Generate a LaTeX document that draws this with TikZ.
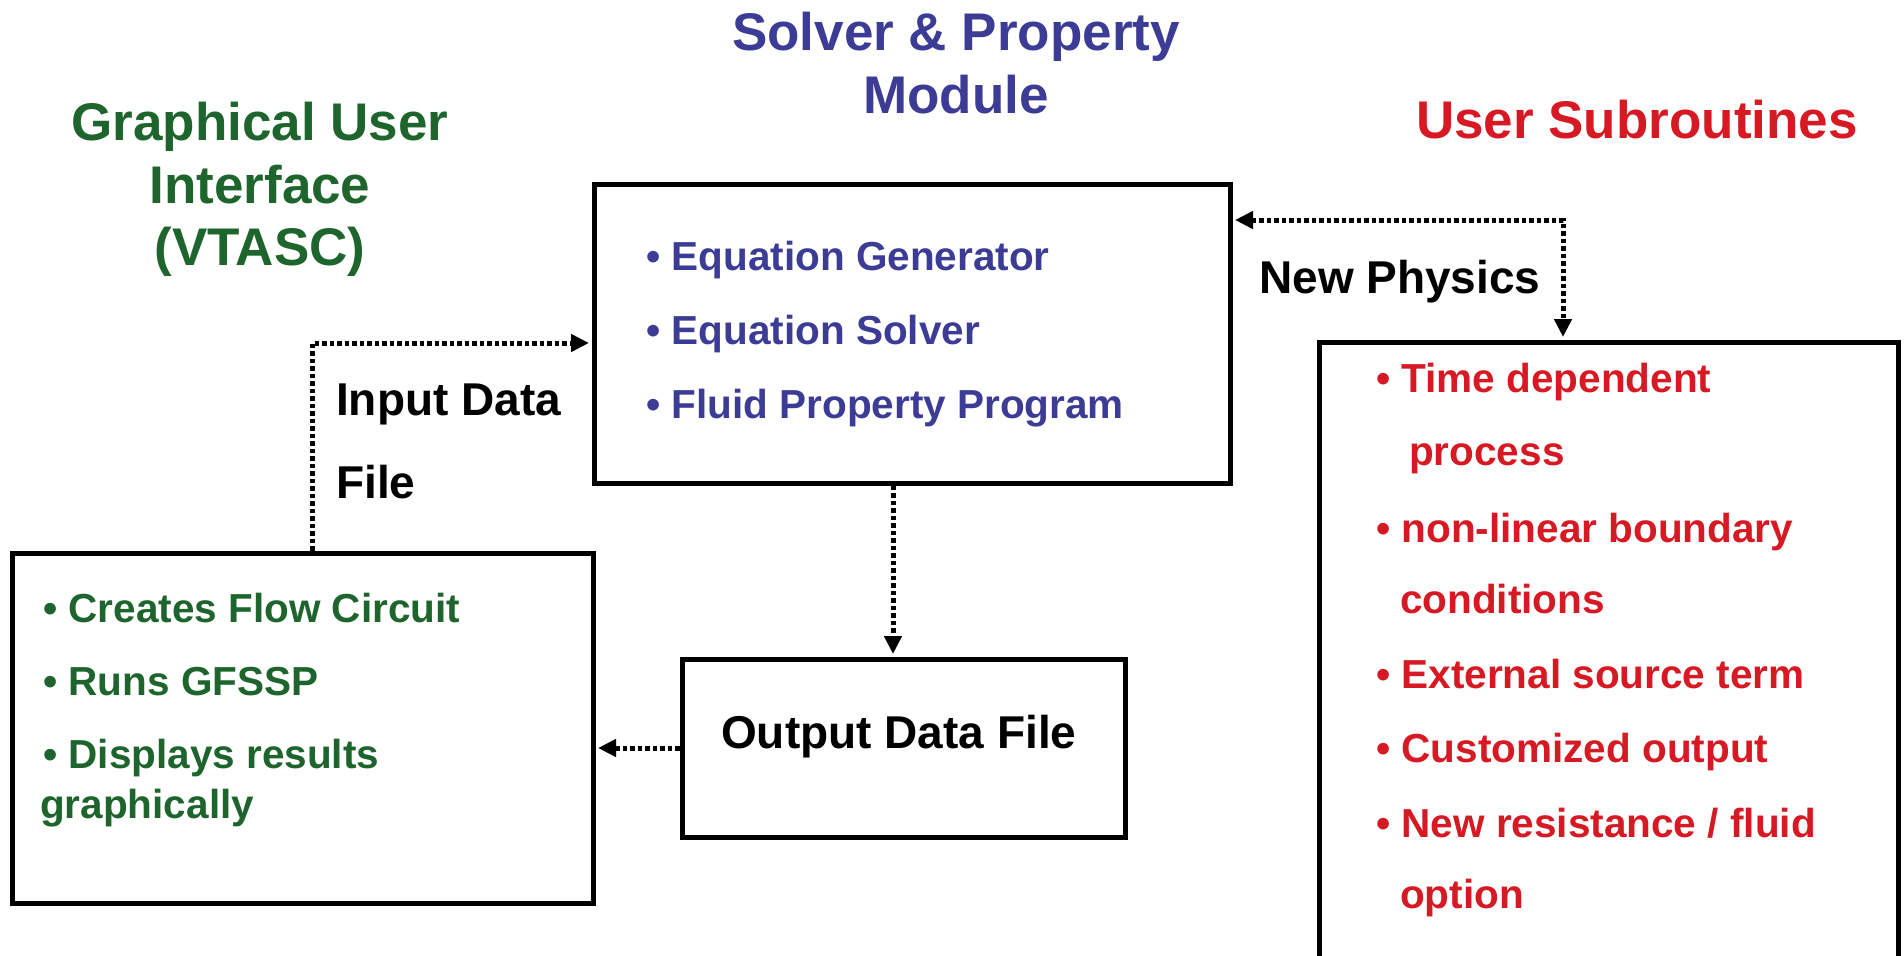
\documentclass[tikz,border=0pt]{standalone}
\usepackage{fontspec}
\setmainfont{Liberation Sans}
\usetikzlibrary{arrows.meta}
\definecolor{gtxt}{RGB}{30,100,45}
\definecolor{btxt}{RGB}{60,60,150}
\definecolor{rtxt}{RGB}{215,25,35}
\begin{document}
\begin{tikzpicture}[x=1pt,y=-1pt,
  >={Triangle[length=18pt,width=17pt]},
  box/.style={draw, line width=5pt, rectangle, inner sep=0pt},
  link/.style={line width=5pt, dash pattern=on 4.5pt off 3pt},
  ttl/.style={font=\fontsize{53}{64}\selectfont\bfseries, anchor=base, inner sep=0pt},
  itm/.style={font=\fontsize{40.5}{48}\selectfont\bfseries, anchor=base west, inner sep=0pt},
  lbl/.style={font=\fontsize{46}{55}\selectfont\bfseries, anchor=base west, inner sep=0pt}]
\useasboundingbox[fill=white] (0,0) rectangle (1904,956);
\clip (0,0) rectangle (1904,956);

% titles
\node[ttl, text=gtxt] (g1) at (260,140) {Graphical User};
\node[ttl, text=gtxt] (g2) at (260,203) {Interface};
\node[ttl, text=gtxt] (g3) at (260,265) {(VTASC)};
\node[ttl, text=btxt] (s1) at (956,50) {Solver \& Property};
\node[ttl, text=btxt] (s2) at (956,113) {Module};
\node[ttl, text=rtxt] (u1) at (1637,138) {User Subroutines};

% boxes
\node[box, minimum width=636pt, minimum height=299pt] (solver) at (912,333.5) {};
\node[box, minimum width=581pt, minimum height=350pt] (gui) at (302.5,728) {};
\node[box, minimum width=443pt, minimum height=178pt] (out) at (903.5,748) {};
\node[box, minimum width=579pt, minimum height=640pt] (sub) at (1608.5,662) {};

% solver items
\node[itm, text=btxt] (e1) at (646,270) {• Equation Generator};
\node[itm, text=btxt] (e2) at (646,344) {• Equation Solver};
\node[itm, text=btxt] (e3) at (646,418) {• Fluid Property Program};

% gui items
\node[itm, text=gtxt] (c1) at (43,622) {• Creates Flow Circuit};
\node[itm, text=gtxt] (c2) at (43,695) {• Runs GFSSP};
\node[itm, text=gtxt] (c3) at (43,768) {• Displays results};
\node[itm, text=gtxt] (c4) at (40,818) {graphically};

% subroutine items
\node[itm, text=rtxt] (r1) at (1376,392) {• Time dependent};
\node[itm, text=rtxt] (r2) at (1409,465) {process};
\node[itm, text=rtxt] (r3) at (1376,542) {• non-linear boundary};
\node[itm, text=rtxt] (r4) at (1400,613) {conditions};
\node[itm, text=rtxt] (r5) at (1376,688) {• External source term};
\node[itm, text=rtxt] (r6) at (1376,762) {• Customized output};
\node[itm, text=rtxt] (r7) at (1376,837) {• New resistance / fluid};
\node[itm, text=rtxt] (r8) at (1400,908) {option};

% labels
\node[lbl] (in1) at (336,415) {Input Data};
\node[lbl] (in2) at (336,498) {File};
\node[lbl] (np) at (1259,293) {New Physics};
\node[lbl] (od) at (721,748) {Output Data File};

% connectors
\coordinate (inbend) at (312,343);
\draw[link, ->, shorten >=2.5pt] (gui.north -| inbend) -- (inbend) -- (inbend -| solver.west);
\coordinate (downx) at (893,0);
\draw[link, ->, shorten >=2.5pt] (solver.south -| downx) -- (out.north -| downx);
\draw[link, ->, shorten >=2.5pt] (out.west) -- (out.west -| gui.east);
\coordinate (npbend) at (1563,220);
\draw[link, <->, shorten >=2.5pt, shorten <=2.5pt] (npbend -| solver.east) -- (npbend) -- (npbend |- sub.north);
\end{tikzpicture}
\end{document}
